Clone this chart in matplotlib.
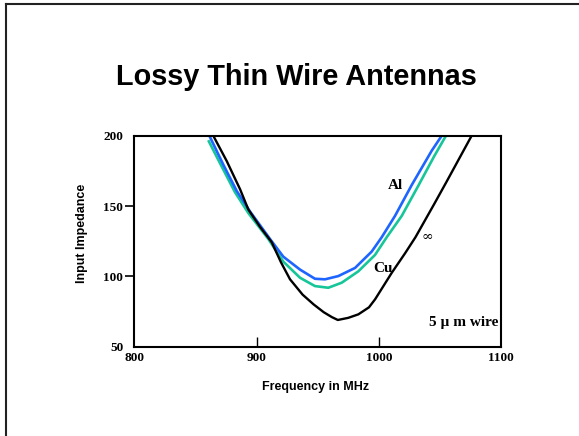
import matplotlib
matplotlib.use("Agg")
import matplotlib.pyplot as plt
from matplotlib.lines import Line2D

# ---- data ----
title = "Lossy Thin Wire Antennas"
xlabel = "Frequency in MHz"
ylabel = "Input Impedance"
xticks = [800, 900, 1000, 1100]
yticks = [50, 100, 150, 200]

inf_x = [864.6, 875.6, 886.5, 893.3, 903, 912.4, 920, 927.4, 937.7, 946.8, 955, 961.7,
         966.5, 975, 983.3, 992, 997, 1010.6, 1021.5, 1030, 1045.4, 1055.6, 1076]
inf_y = [200, 182, 162, 147.5, 135, 124.3, 110, 97.9, 87, 80, 74.5, 71,
         69, 70.5, 73, 78, 83.7, 102.5, 116.4, 127.8, 151.5, 167.5, 200]

al_x = [861.4, 872.8, 883.8, 894.7, 911, 921.9, 935.6, 947.8, 956, 966.9, 980.6,
        994.2, 1002.4, 1013.3, 1027, 1043.3, 1051.5]
al_y = [200, 179.4, 160.7, 146.1, 126.6, 114, 104.8, 98.3, 97.9, 100.2, 106,
        117.6, 127.8, 143.0, 165.0, 189.3, 200]

cu_x = [860.5, 871.5, 882.4, 893.3, 909.6, 921.9, 935.6, 947.8, 958.7, 969.7, 983.3,
        996.9, 1006.5, 1018.8, 1032.4, 1045.4, 1055]
cu_y = [196.8, 178.1, 159.8, 145, 126.6, 110.5, 99, 93.1, 91.9, 95.5, 103.6,
        115.2, 127.8, 143.0, 164.5, 185.5, 200]

labels = ["Al", "Cu", "\u221e", "5 \u00b5 m wire"]
label_x = [1013.3, 1003.7, 1039.3, 1098]
label_y = [164.9, 105.9, 127.8, 67]

# ---- figure ----
fig = plt.figure(figsize=(5.79, 4.36), dpi=100, facecolor="white")
W, H = 579, 436

# slide frame
fig.add_artist(Line2D([6 / W, 6 / W], [0, 1 - 4.5 / H], transform=fig.transFigure,
                      color="#222222", lw=1.5))
fig.add_artist(Line2D([6 / W, 1], [1 - 4.5 / H, 1 - 4.5 / H], transform=fig.transFigure,
                      color="#222222", lw=1.5))

fig.text(296 / W, 1 - 85 / H, title, ha="center", va="baseline",
         family="Liberation Sans", weight="bold", fontsize=20.8)

ax = fig.add_axes([134.3 / W, 1 - 346.7 / H, (501 - 134.3) / W, (346.7 - 135.7) / H])
ax.plot(cu_x, cu_y, color="#16C699", lw=1.9, solid_capstyle="butt")
ax.plot(al_x, al_y, color="#1E64FF", lw=1.9, solid_capstyle="butt")
ax.plot(inf_x, inf_y, color="black", lw=1.7, solid_capstyle="butt")

ax.set_xlim(800, 1100)
ax.set_ylim(50, 200)
ax.set_xticks(xticks)
ax.set_yticks(yticks)
tickfont = dict(family="Liberation Serif", weight="bold", size=9.5)
ax.set_xticklabels([str(v) for v in xticks], fontdict=tickfont)
ax.set_yticklabels([str(v) for v in yticks], fontdict=tickfont)
ax.tick_params(axis="x", direction="in", length=7, width=1.0, pad=3.5)
ax.tick_params(axis="y", direction="out", length=6.5, width=1.2, pad=1.5)
for t in (ax.xaxis.get_major_ticks()[0], ax.xaxis.get_major_ticks()[-1],
          ax.yaxis.get_major_ticks()[0], ax.yaxis.get_major_ticks()[-1]):
    t.tick1line.set_visible(False)
for s in ax.spines.values():
    s.set_linewidth(1.5)

txtfont = dict(family="Liberation Serif", weight="bold")
ax.text(label_x[0], label_y[0], labels[0], ha="center", va="center", fontsize=11, **txtfont)
ax.text(label_x[1], label_y[1], labels[1], ha="center", va="center", fontsize=11, **txtfont)
ax.text(label_x[2], label_y[2], labels[2], ha="center", va="center", fontsize=10,
        family="DejaVu Serif")
ax.text(label_x[3], label_y[3], labels[3], ha="right", va="center", fontsize=11, **txtfont)

fig.text(315.5 / W, 1 - 390 / H, xlabel, ha="center", va="baseline",
         family="Liberation Sans", weight="bold", fontsize=9)
fig.text(82 / W, 1 - 233.3 / H, ylabel, ha="center", va="center", rotation=90,
         family="Liberation Sans", weight="bold", fontsize=9)

fig.savefig("out.png", dpi=100, facecolor="white")
